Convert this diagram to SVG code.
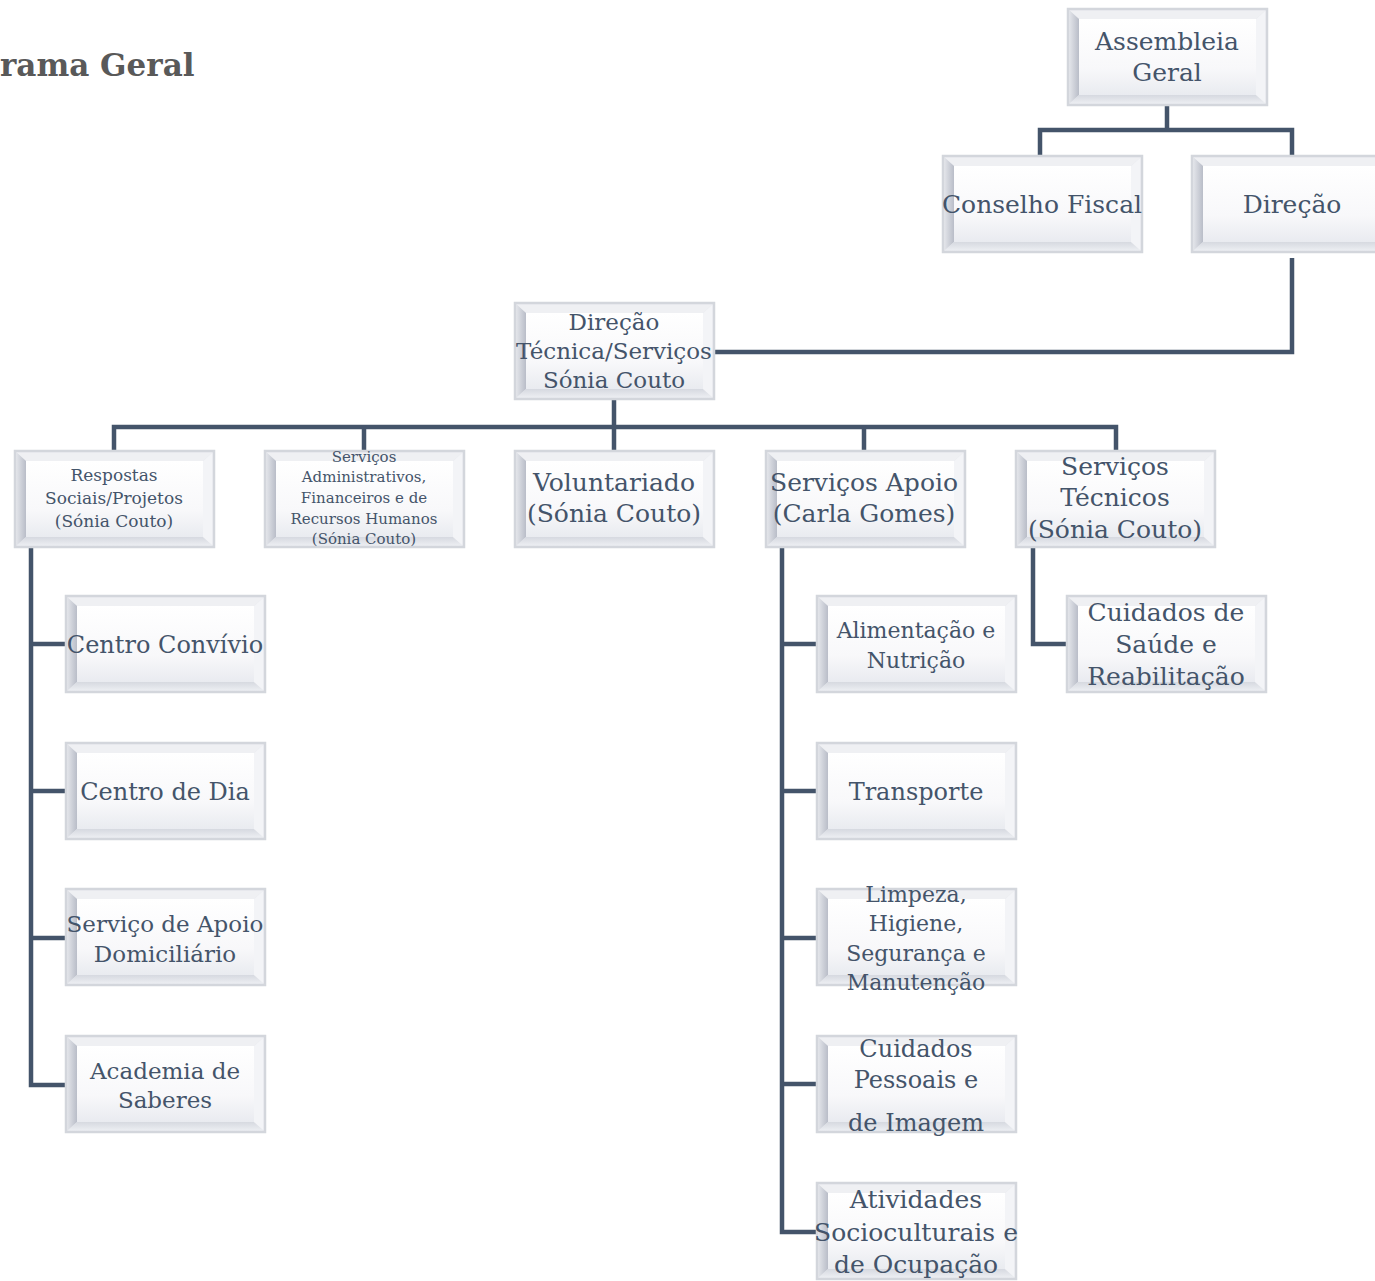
<svg xmlns="http://www.w3.org/2000/svg" width="1375" height="1281" viewBox="0 0 1375 1281">
<style>
.t{font-family:"DejaVu Serif","Liberation Serif",serif;fill:#44546a;text-anchor:middle}
.c{fill:none;stroke:#44546a;stroke-width:4.5;stroke-linejoin:miter}
.title{font-family:"DejaVu Serif","Liberation Serif",serif;font-weight:bold;fill:#595959;font-size:31px}
</style>
<defs>
<linearGradient id="gl" x1="0" y1="0" x2="1" y2="0"><stop offset="0" stop-color="#e2e4e9"/><stop offset="1" stop-color="#b9bdc8"/></linearGradient>
<linearGradient id="gb" x1="0" y1="0" x2="0" y2="1"><stop offset="0" stop-color="#d6d9e0"/><stop offset="1" stop-color="#eceef2"/></linearGradient>
<linearGradient id="gf" x1="0" y1="0" x2="0" y2="1"><stop offset="0" stop-color="#ffffff"/><stop offset="0.65" stop-color="#f8f8fa"/><stop offset="1" stop-color="#e9ebf0"/></linearGradient>
<symbol id="box" overflow="visible">
<rect x="1" y="1" width="199" height="96" fill="#e3e5ea" stroke="#d3d6dc" stroke-width="2.5"/>
<polygon points="2.5,2.5 198.5,2.5 189,11 12,11" fill="#eff0f3"/>
<polygon points="2.5,2.5 12,11 12,87 2.5,95.5" fill="url(#gl)"/>
<polygon points="2.5,95.5 12,87 189,87 198.5,95.5" fill="url(#gb)"/>
<polygon points="198.5,2.5 189,11 189,87 198.5,95.5" fill="#f3f4f7"/>
<rect x="12" y="11" width="177" height="76" fill="url(#gf)"/>
</symbol>
</defs>
<rect width="1375" height="1281" fill="#ffffff"/>
<text class="title" x="0" y="76">rama Geral</text>
<g id="connectors">
<path class="c" d="M1167,106 V130 M1040,155 V130 H1292 V155"/>
<path class="c" d="M1292,258 V352 H715"/>
<path class="c" d="M614,400 V427 M114,450 V427 H1116 V450 M364,427 V450 M614,427 V450 M864,427 V450"/>
<path class="c" d="M31,547 V1085 H65 M31,644 H65 M31,791 H65 M31,938 H65"/>
<path class="c" d="M782,547 V1232 H816 M782,644 H816 M782,791 H816 M782,938 H816 M782,1084 H816"/>
<path class="c" d="M1033,547 V644 H1066"/>
</g>
<g id="n-assembleia"><use href="#box" x="1067" y="8"/><text class="t" font-size="25" x="1167" y="50">Assembleia</text><text class="t" font-size="25" x="1167" y="81">Geral</text></g>
<g id="n-conselho"><use href="#box" x="942" y="155"/><text class="t" font-size="25" x="1042" y="213">Conselho Fiscal</text></g>
<g id="n-direcao"><use href="#box" x="1191" y="155"/><text class="t" font-size="25" x="1292" y="213">Direção</text></g>
<g id="n-dirtec"><use href="#box" x="514" y="302"/><text class="t" font-size="23" x="614" y="330">Direção</text><text class="t" font-size="23" x="614" y="359">Técnica/Serviços</text><text class="t" font-size="23" x="614" y="388">Sónia Couto</text></g>
<g id="n-respostas"><use href="#box" x="14" y="450"/><text class="t" font-size="17" x="114" y="481">Respostas</text><text class="t" font-size="17" x="114" y="504">Sociais/Projetos</text><text class="t" font-size="17" x="114" y="527">(Sónia Couto)</text></g>
<g id="n-admin"><use href="#box" x="264" y="450"/><text class="t" font-size="15" x="364" y="462">Serviços</text><text class="t" font-size="15" x="364" y="482">Administrativos,</text><text class="t" font-size="15" x="364" y="503">Financeiros e de</text><text class="t" font-size="15" x="364" y="524">Recursos Humanos</text><text class="t" font-size="15" x="364" y="544">(Sónia Couto)</text></g>
<g id="n-volunt"><use href="#box" x="514" y="450"/><text class="t" font-size="25" x="614" y="491">Voluntariado</text><text class="t" font-size="25" x="614" y="522">(Sónia Couto)</text></g>
<g id="n-apoio"><use href="#box" x="765" y="450"/><text class="t" font-size="25" x="864" y="491">Serviços Apoio</text><text class="t" font-size="25" x="864" y="522">(Carla Gomes)</text></g>
<g id="n-tecnicos"><use href="#box" x="1015" y="450"/><text class="t" font-size="25" x="1115" y="475">Serviços</text><text class="t" font-size="25" x="1115" y="506">Técnicos</text><text class="t" font-size="25" x="1115" y="538">(Sónia Couto)</text></g>
<g id="n-convivio"><use href="#box" x="65" y="595"/><text class="t" font-size="24" x="165" y="653">Centro Convívio</text></g>
<g id="n-dia"><use href="#box" x="65" y="742"/><text class="t" font-size="24" x="165" y="800">Centro de Dia</text></g>
<g id="n-sad"><use href="#box" x="65" y="888"/><text class="t" font-size="23" x="165" y="932">Serviço de Apoio</text><text class="t" font-size="23" x="165" y="962">Domiciliário</text></g>
<g id="n-academia"><use href="#box" x="65" y="1035"/><text class="t" font-size="23" x="165" y="1079">Academia de</text><text class="t" font-size="23" x="165" y="1108">Saberes</text></g>
<g id="n-alim"><use href="#box" x="816" y="595"/><text class="t" font-size="22" x="916" y="638">Alimentação e</text><text class="t" font-size="22" x="916" y="668">Nutrição</text></g>
<g id="n-transp"><use href="#box" x="816" y="742"/><text class="t" font-size="24" x="916" y="800">Transporte</text></g>
<g id="n-limpeza"><use href="#box" x="816" y="888"/><text class="t" font-size="22" x="916" y="902">Limpeza,</text><text class="t" font-size="22" x="916" y="931">Higiene,</text><text class="t" font-size="22" x="916" y="961">Segurança e</text><text class="t" font-size="22" x="916" y="990">Manutenção</text></g>
<g id="n-pessoais"><use href="#box" x="816" y="1035"/><text class="t" font-size="24" x="916" y="1057">Cuidados</text><text class="t" font-size="24" x="916" y="1088">Pessoais e</text><text class="t" font-size="24" x="916" y="1131">de Imagem</text></g>
<g id="n-ativ"><use href="#box" x="816" y="1182"/><text class="t" font-size="25" x="916" y="1208">Atividades</text><text class="t" font-size="25" x="916" y="1241">Socioculturais e</text><text class="t" font-size="25" x="916" y="1273">de Ocupação</text></g>
<g id="n-saude"><use href="#box" x="1066" y="595"/><text class="t" font-size="25" x="1166" y="621">Cuidados de</text><text class="t" font-size="25" x="1166" y="653">Saúde e</text><text class="t" font-size="25" x="1166" y="685">Reabilitação</text></g>
</svg>
